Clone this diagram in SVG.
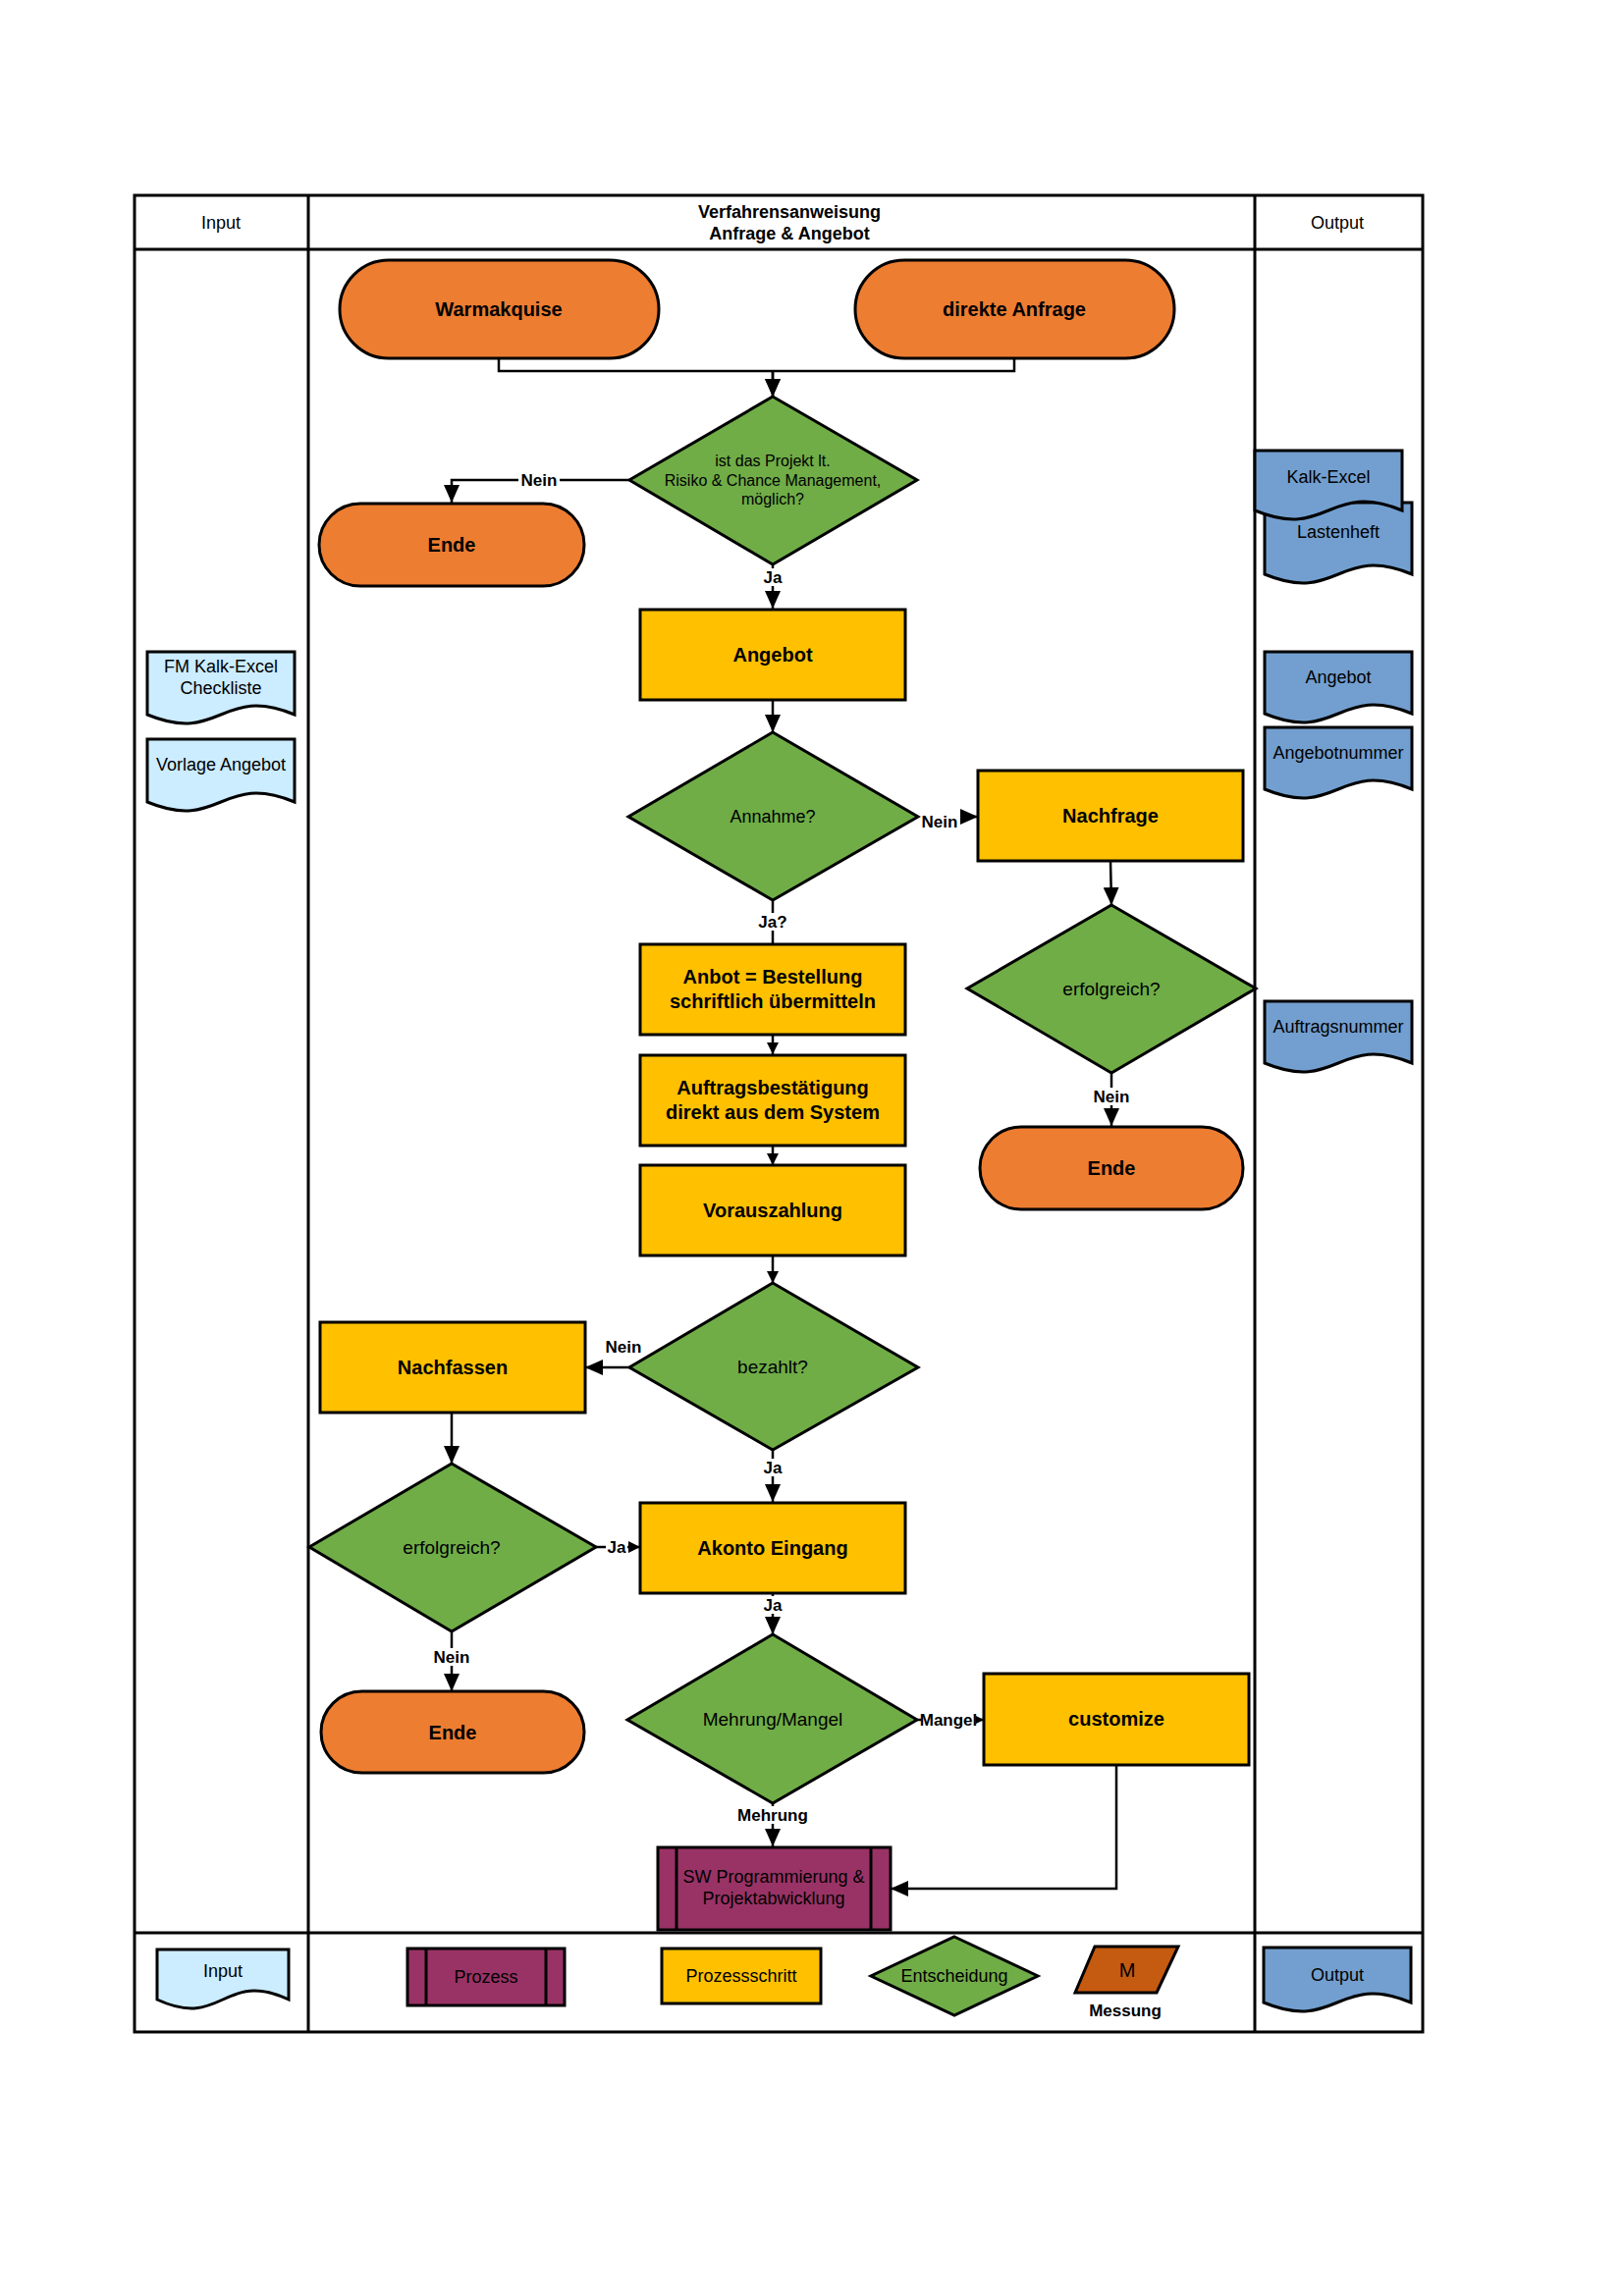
<svg xmlns="http://www.w3.org/2000/svg" width="1654" height="2339" viewBox="0 0 1654 2339">
<style>
text{font-family:"Liberation Sans",Arial,sans-serif;fill:#000;text-anchor:middle}
.b{font-weight:bold}
.frame{fill:none;stroke:#000;stroke-width:3}
.term{fill:#ED7D31;stroke:#000;stroke-width:3}
.step{fill:#FFC000;stroke:#000;stroke-width:3}
.dec{fill:#70AD47;stroke:#000;stroke-width:3}
.proc{fill:#993366;stroke:#000;stroke-width:3}
.din{fill:#CCECFF;stroke:#000;stroke-width:3}
.dout{fill:#729FCF;stroke:#000;stroke-width:3}
.meas{fill:#C55A11;stroke:#000;stroke-width:3}
.c{fill:none;stroke:#000;stroke-width:2.5}
.lbg{fill:#fff}
</style>
<defs>
<marker id="ab" markerUnits="userSpaceOnUse" markerWidth="18" markerHeight="16" refX="18" refY="8" orient="auto"><path d="M0,0 L18,8 L0,16 z" fill="#000"/></marker>
<marker id="as" markerUnits="userSpaceOnUse" markerWidth="12" markerHeight="12" refX="12" refY="6" orient="auto"><path d="M0,0 L12,6 L0,12 z" fill="#000"/></marker>
</defs>
<rect width="1654" height="2339" fill="#fff"/>

<g id="table">
<rect class="frame" x="137" y="199" width="1312" height="1871"/>
<line class="frame" x1="137" y1="254" x2="1449" y2="254"/>
<line class="frame" x1="137" y1="1969" x2="1449" y2="1969" stroke-width="2.5"/>
<line class="frame" x1="314" y1="199" x2="314" y2="2070"/>
<line class="frame" x1="1278" y1="199" x2="1278" y2="2070"/>
<text x="225" y="233" font-size="18">Input</text>
<text x="1362" y="233" font-size="18">Output</text>
<text x="804" y="222" font-size="18" class="b">Verfahrensanweisung</text>
<text x="804" y="244" font-size="18" class="b">Anfrage &amp; Angebot</text>
</g>

<g id="connectors">
<path class="c" d="M508 365 V378 H1033 V365 M787 378 V404" marker-end="url(#ab)"/>
<path class="c" d="M787 378 V404" marker-end="url(#ab)"/>
<path class="c" d="M641 489 H460 V512" marker-end="url(#ab)"/>
<path class="c" d="M787 575 V620" marker-end="url(#ab)"/>
<path class="c" d="M787 713 V746" marker-end="url(#ab)"/>
<path class="c" d="M936 832 H996" marker-end="url(#ab)"/>
<path class="c" d="M787 917 V962" stroke-width="1.5"/>
<path class="c" d="M1131 877 L1132 922" marker-end="url(#ab)"/>
<path class="c" d="M1132 1093 V1147" marker-end="url(#ab)"/>
<path class="c" d="M787 1055 V1074" marker-end="url(#as)"/>
<path class="c" d="M787 1168 V1187" marker-end="url(#as)"/>
<path class="c" d="M787 1278 V1307" marker-end="url(#as)"/>
<path class="c" d="M641 1393 H596" marker-end="url(#ab)"/>
<path class="c" d="M787 1477 V1530" marker-end="url(#ab)"/>
<path class="c" d="M460 1439 V1491" marker-end="url(#ab)"/>
<path class="c" d="M607 1576 H652" marker-end="url(#as)"/>
<path class="c" d="M460 1662 V1723" marker-end="url(#ab)"/>
<path class="c" d="M787 1623 V1665" marker-end="url(#ab)"/>
<path class="c" d="M934 1752 H1002" stroke-width="1.5" marker-end="url(#as)"/>
<path class="c" d="M787 1837 V1881" marker-end="url(#ab)"/>
<path class="c" d="M1137 1798 V1924 H907" marker-end="url(#ab)"/>
<rect class="lbg" x="528" y="480" width="42" height="18"/>
<text x="549" y="495" font-size="17" class="b">Nein</text>
<rect class="lbg" x="776" y="579" width="22" height="18"/>
<text x="787" y="594" font-size="17" class="b">Ja</text>
<rect class="lbg" x="936" y="829" width="42" height="18"/>
<text x="957" y="843" font-size="17" class="b">Nein</text>
<rect class="lbg" x="772" y="930" width="30" height="18"/>
<text x="787" y="945" font-size="17" class="b">Ja?</text>
<rect class="lbg" x="1111" y="1108" width="42" height="18"/>
<text x="1132" y="1123" font-size="17" class="b">Nein</text>
<text x="635" y="1378" font-size="17" class="b">Nein</text>
<rect class="lbg" x="776" y="1486" width="22" height="18"/>
<text x="787" y="1501" font-size="17" class="b">Ja</text>
<rect class="lbg" x="617" y="1567" width="22" height="18"/>
<text x="628" y="1582" font-size="17" class="b">Ja</text>
<rect class="lbg" x="776" y="1626" width="22" height="18"/>
<text x="787" y="1641" font-size="17" class="b">Ja</text>
<rect class="lbg" x="439" y="1679" width="42" height="18"/>
<text x="460" y="1694" font-size="17" class="b">Nein</text>
<rect class="lbg" x="938" y="1743" width="56" height="18"/>
<text x="966" y="1758" font-size="17" class="b">Mangel</text>
<rect class="lbg" x="751" y="1840" width="72" height="18"/>
<text x="787" y="1855" font-size="17" class="b">Mehrung</text>
</g>

<g id="warmakquise"><rect class="term" x="346" y="265" width="325" height="100" rx="50"/><text x="508" y="322" font-size="20" class="b">Warmakquise</text></g>
<g id="direkte-anfrage"><rect class="term" x="871" y="265" width="325" height="100" rx="50"/><text x="1033" y="322" font-size="20" class="b">direkte Anfrage</text></g>
<g id="d-projekt"><polygon class="dec" points="787,404 934,489 787,575 641,489"/><text x="787" y="475" font-size="16">ist das Projekt lt.</text><text x="787" y="495" font-size="16">Risiko &amp; Chance Management,</text><text x="787" y="514" font-size="16">möglich?</text></g>
<g id="ende1"><rect class="term" x="325" y="513" width="270" height="84" rx="42"/><text x="460" y="562" font-size="20" class="b">Ende</text></g>
<g id="angebot"><rect class="step" x="652" y="621" width="270" height="92"/><text x="787" y="674" font-size="20" class="b">Angebot</text></g>
<g id="d-annahme"><polygon class="dec" points="787,746 935,832 787,917 640,832"/><text x="787" y="838" font-size="18">Annahme?</text></g>
<g id="nachfrage"><rect class="step" x="996" y="785" width="270" height="92"/><text x="1131" y="838" font-size="20" class="b">Nachfrage</text></g>
<g id="d-erfolgreich1"><polygon class="dec" points="1132,922 1279,1007 1132,1093 985,1007"/><text x="1132" y="1014" font-size="19">erfolgreich?</text></g>
<g id="ende2"><rect class="term" x="998" y="1148" width="268" height="84" rx="42"/><text x="1132" y="1197" font-size="20" class="b">Ende</text></g>
<g id="anbot"><rect class="step" x="652" y="962" width="270" height="92"/><text x="787" y="1002" font-size="20" class="b">Anbot = Bestellung</text><text x="787" y="1027" font-size="20" class="b">schriftlich übermitteln</text></g>
<g id="auftragsbestaetigung"><rect class="step" x="652" y="1075" width="270" height="92"/><text x="787" y="1115" font-size="20" class="b">Auftragsbestätigung</text><text x="787" y="1140" font-size="20" class="b">direkt aus dem System</text></g>
<g id="vorauszahlung"><rect class="step" x="652" y="1187" width="270" height="92"/><text x="787" y="1240" font-size="20" class="b">Vorauszahlung</text></g>
<g id="d-bezahlt"><polygon class="dec" points="787,1307 935,1393 787,1477 641,1393"/><text x="787" y="1399" font-size="19">bezahlt?</text></g>
<g id="nachfassen"><rect class="step" x="326" y="1347" width="270" height="92"/><text x="461" y="1400" font-size="20" class="b">Nachfassen</text></g>
<g id="d-erfolgreich2"><polygon class="dec" points="460,1491 607,1576 460,1662 315,1576"/><text x="460" y="1583" font-size="19">erfolgreich?</text></g>
<g id="akonto"><rect class="step" x="652" y="1531" width="270" height="92"/><text x="787" y="1584" font-size="20" class="b">Akonto Eingang</text></g>
<g id="ende3"><rect class="term" x="327" y="1723" width="268" height="83" rx="41.5"/><text x="461" y="1772" font-size="20" class="b">Ende</text></g>
<g id="d-mehrung"><polygon class="dec" points="787,1665 934,1752 787,1837 639,1752"/><text x="787" y="1758" font-size="19">Mehrung/Mangel</text></g>
<g id="customize"><rect class="step" x="1002" y="1705" width="270" height="93"/><text x="1137" y="1758" font-size="20" class="b">customize</text></g>
<g id="sw"><rect class="proc" x="670" y="1882" width="237" height="84"/><line x1="689" y1="1882" x2="689" y2="1966" stroke="#000" stroke-width="3"/><line x1="887" y1="1882" x2="887" y2="1966" stroke="#000" stroke-width="3"/><text x="788" y="1918" font-size="18">SW Programmierung &amp;</text><text x="788" y="1940" font-size="18">Projektabwicklung</text></g>

<g id="in-fm-kalk"><path class="din" d="M150 664 H300 V728 C225 697 225 759 150 728 Z"/><text x="225" y="685" font-size="18">FM Kalk-Excel</text><text x="225" y="707" font-size="18">Checkliste</text></g>
<g id="in-vorlage"><path class="din" d="M150 753 H300 V817 C225 786 225 848 150 817 Z"/><text x="225" y="785" font-size="18">Vorlage Angebot</text></g>

<g id="out-lastenheft"><path class="dout" d="M1288 512 H1438 V585 C1363 554 1363 616 1288 585 Z"/><text x="1363" y="548" font-size="18">Lastenheft</text></g>
<g id="out-kalk"><path class="dout" d="M1278 459 H1428 V520 C1353 489 1353 551 1278 520 Z"/><text x="1353" y="492" font-size="18">Kalk-Excel</text></g>
<g id="out-angebot"><path class="dout" d="M1288 664 H1438 V727 C1363 696 1363 758 1288 727 Z"/><text x="1363" y="696" font-size="18">Angebot</text></g>
<g id="out-angebotnummer"><path class="dout" d="M1288 741 H1438 V804 C1363 773 1363 835 1288 804 Z"/><text x="1363" y="773" font-size="18">Angebotnummer</text></g>
<g id="out-auftragsnummer"><path class="dout" d="M1288 1020 H1438 V1083 C1363 1052 1363 1114 1288 1083 Z"/><text x="1363" y="1052" font-size="18">Auftragsnummer</text></g>

<g id="legend-input"><path class="din" d="M160 1986 H294 V2037 C227 2006 227 2068 160 2037 Z"/><text x="227" y="2014" font-size="18">Input</text></g>
<g id="legend-prozess"><rect class="proc" x="415" y="1985" width="160" height="58"/><line x1="434" y1="1985" x2="434" y2="2043" stroke="#000" stroke-width="3"/><line x1="556" y1="1985" x2="556" y2="2043" stroke="#000" stroke-width="3"/><text x="495" y="2020" font-size="18">Prozess</text></g>
<g id="legend-schritt"><rect class="step" x="674" y="1985" width="162" height="56"/><text x="755" y="2019" font-size="18">Prozessschritt</text></g>
<g id="legend-entscheidung"><polygon class="dec" points="972,1973 1057,2013 972,2053 887,2013"/><text x="972" y="2019" font-size="18">Entscheidung</text></g>
<g id="legend-messung"><polygon class="meas" points="1115,1983 1200,1983 1178,2030 1095,2030"/><text x="1148" y="2014" font-size="20">M</text><text x="1146" y="2054" font-size="17" class="b">Messung</text></g>
<g id="legend-output"><path class="dout" d="M1287 1984 H1437 V2040 C1362 2009 1362 2071 1287 2040 Z"/><text x="1362" y="2018" font-size="18">Output</text></g>
</svg>
